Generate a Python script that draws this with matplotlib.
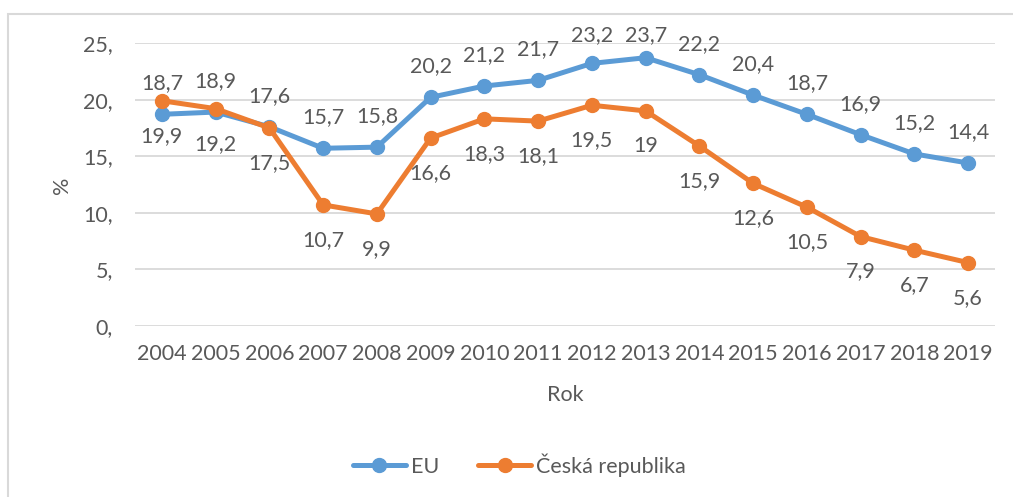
import matplotlib
matplotlib.use("Agg")
import matplotlib.pyplot as plt
from matplotlib.patches import Rectangle

years = ["2004", "2005", "2006", "2007", "2008", "2009", "2010", "2011",
         "2012", "2013", "2014", "2015", "2016", "2017", "2018", "2019"]
eu = [18.7, 18.9, 17.6, 15.7, 15.8, 20.2, 21.2, 21.7, 23.2, 23.7, 22.2, 20.4, 18.7, 16.9, 15.2, 14.4]
cz = [19.9, 19.2, 17.5, 10.7, 9.9, 16.6, 18.3, 18.1, 19.5, 19.0, 15.9, 12.6, 10.5, 7.9, 6.7, 5.6]
yticks = [0, 5, 10, 15, 20, 25]
ytick_labels = ["0,", "5,", "10,", "15,", "20,", "25,"]

plt.rcParams['font.family'] = ['Lato', 'DejaVu Sans']
TXT = '#595959'
BLUE = '#5B9BD5'
ORANGE = '#ED7D31'
FS = 15.5

W, H = 1013, 497
fig = plt.figure(figsize=(W / 100, H / 100), dpi=100)
fig.patch.set_facecolor('white')
ax = fig.add_axes([135 / W, 1 - 326 / H, (995 - 135) / W, (326 - 43) / H])

x = list(range(len(years)))
ax.plot(x, eu, color=BLUE, lw=3.6, marker='o', ms=10, label='EU', solid_capstyle='round', zorder=3)
ax.plot(x, cz, color=ORANGE, lw=3.6, marker='o', ms=10, label='Česká republika', solid_capstyle='round', zorder=4)

ax.set_xlim(-0.5, len(years) - 0.5)
ax.set_ylim(0, 25)
ax.set_yticks(yticks)
ax.set_yticklabels(ytick_labels)
ax.set_xticks(x)
ax.set_xticklabels(years)
ax.tick_params(axis='both', length=0, labelsize=FS, labelcolor=TXT)
ax.tick_params(axis='y', pad=16)
ax.tick_params(axis='x', pad=13)
ax.grid(axis='y', color='#d9d9d9', lw=1.3)
ax.set_axisbelow(True)
for s in ax.spines.values():
    s.set_visible(False)

fig.canvas.draw()
for i, v in enumerate(eu):
    ypix = ax.transData.transform((i, v))[1]
    top = H - 35
    off = min(31, top - ypix)
    ax.annotate(f"{v:g}".replace('.', ','), (i, v), xytext=(0, off * 72 / 100),
                textcoords='offset points', ha='center', va='center',
                fontsize=FS, color=TXT, annotation_clip=False)
for i, v in enumerate(cz):
    ax.annotate(f"{v:g}".replace('.', ','), (i, v), xytext=(0, -35 * 72 / 100),
                textcoords='offset points', ha='center', va='center',
                fontsize=FS, color=TXT, annotation_clip=False)

fig.text(62 / W, 1 - 185 / H, '%', rotation=90, ha='center', va='center', fontsize=FS, color=TXT)
fig.text(565 / W, 1 - 395 / H, 'Rok', ha='center', va='center', fontsize=FS, color=TXT)

leg = fig.legend(loc='center', bbox_to_anchor=(519 / W, 1 - 465 / H), ncol=2, frameon=False,
                 fontsize=FS, labelcolor=TXT, handlelength=2.5, handletextpad=0.2,
                 columnspacing=1.8)

fig.patches.append(Rectangle((8 / W, -0.01), 1.0, 1 - 14 / H + 0.01, transform=fig.transFigure,
                             fill=False, edgecolor='#d9d9d9', lw=1.5))

fig.savefig('out.png', dpi=100, facecolor='white')
